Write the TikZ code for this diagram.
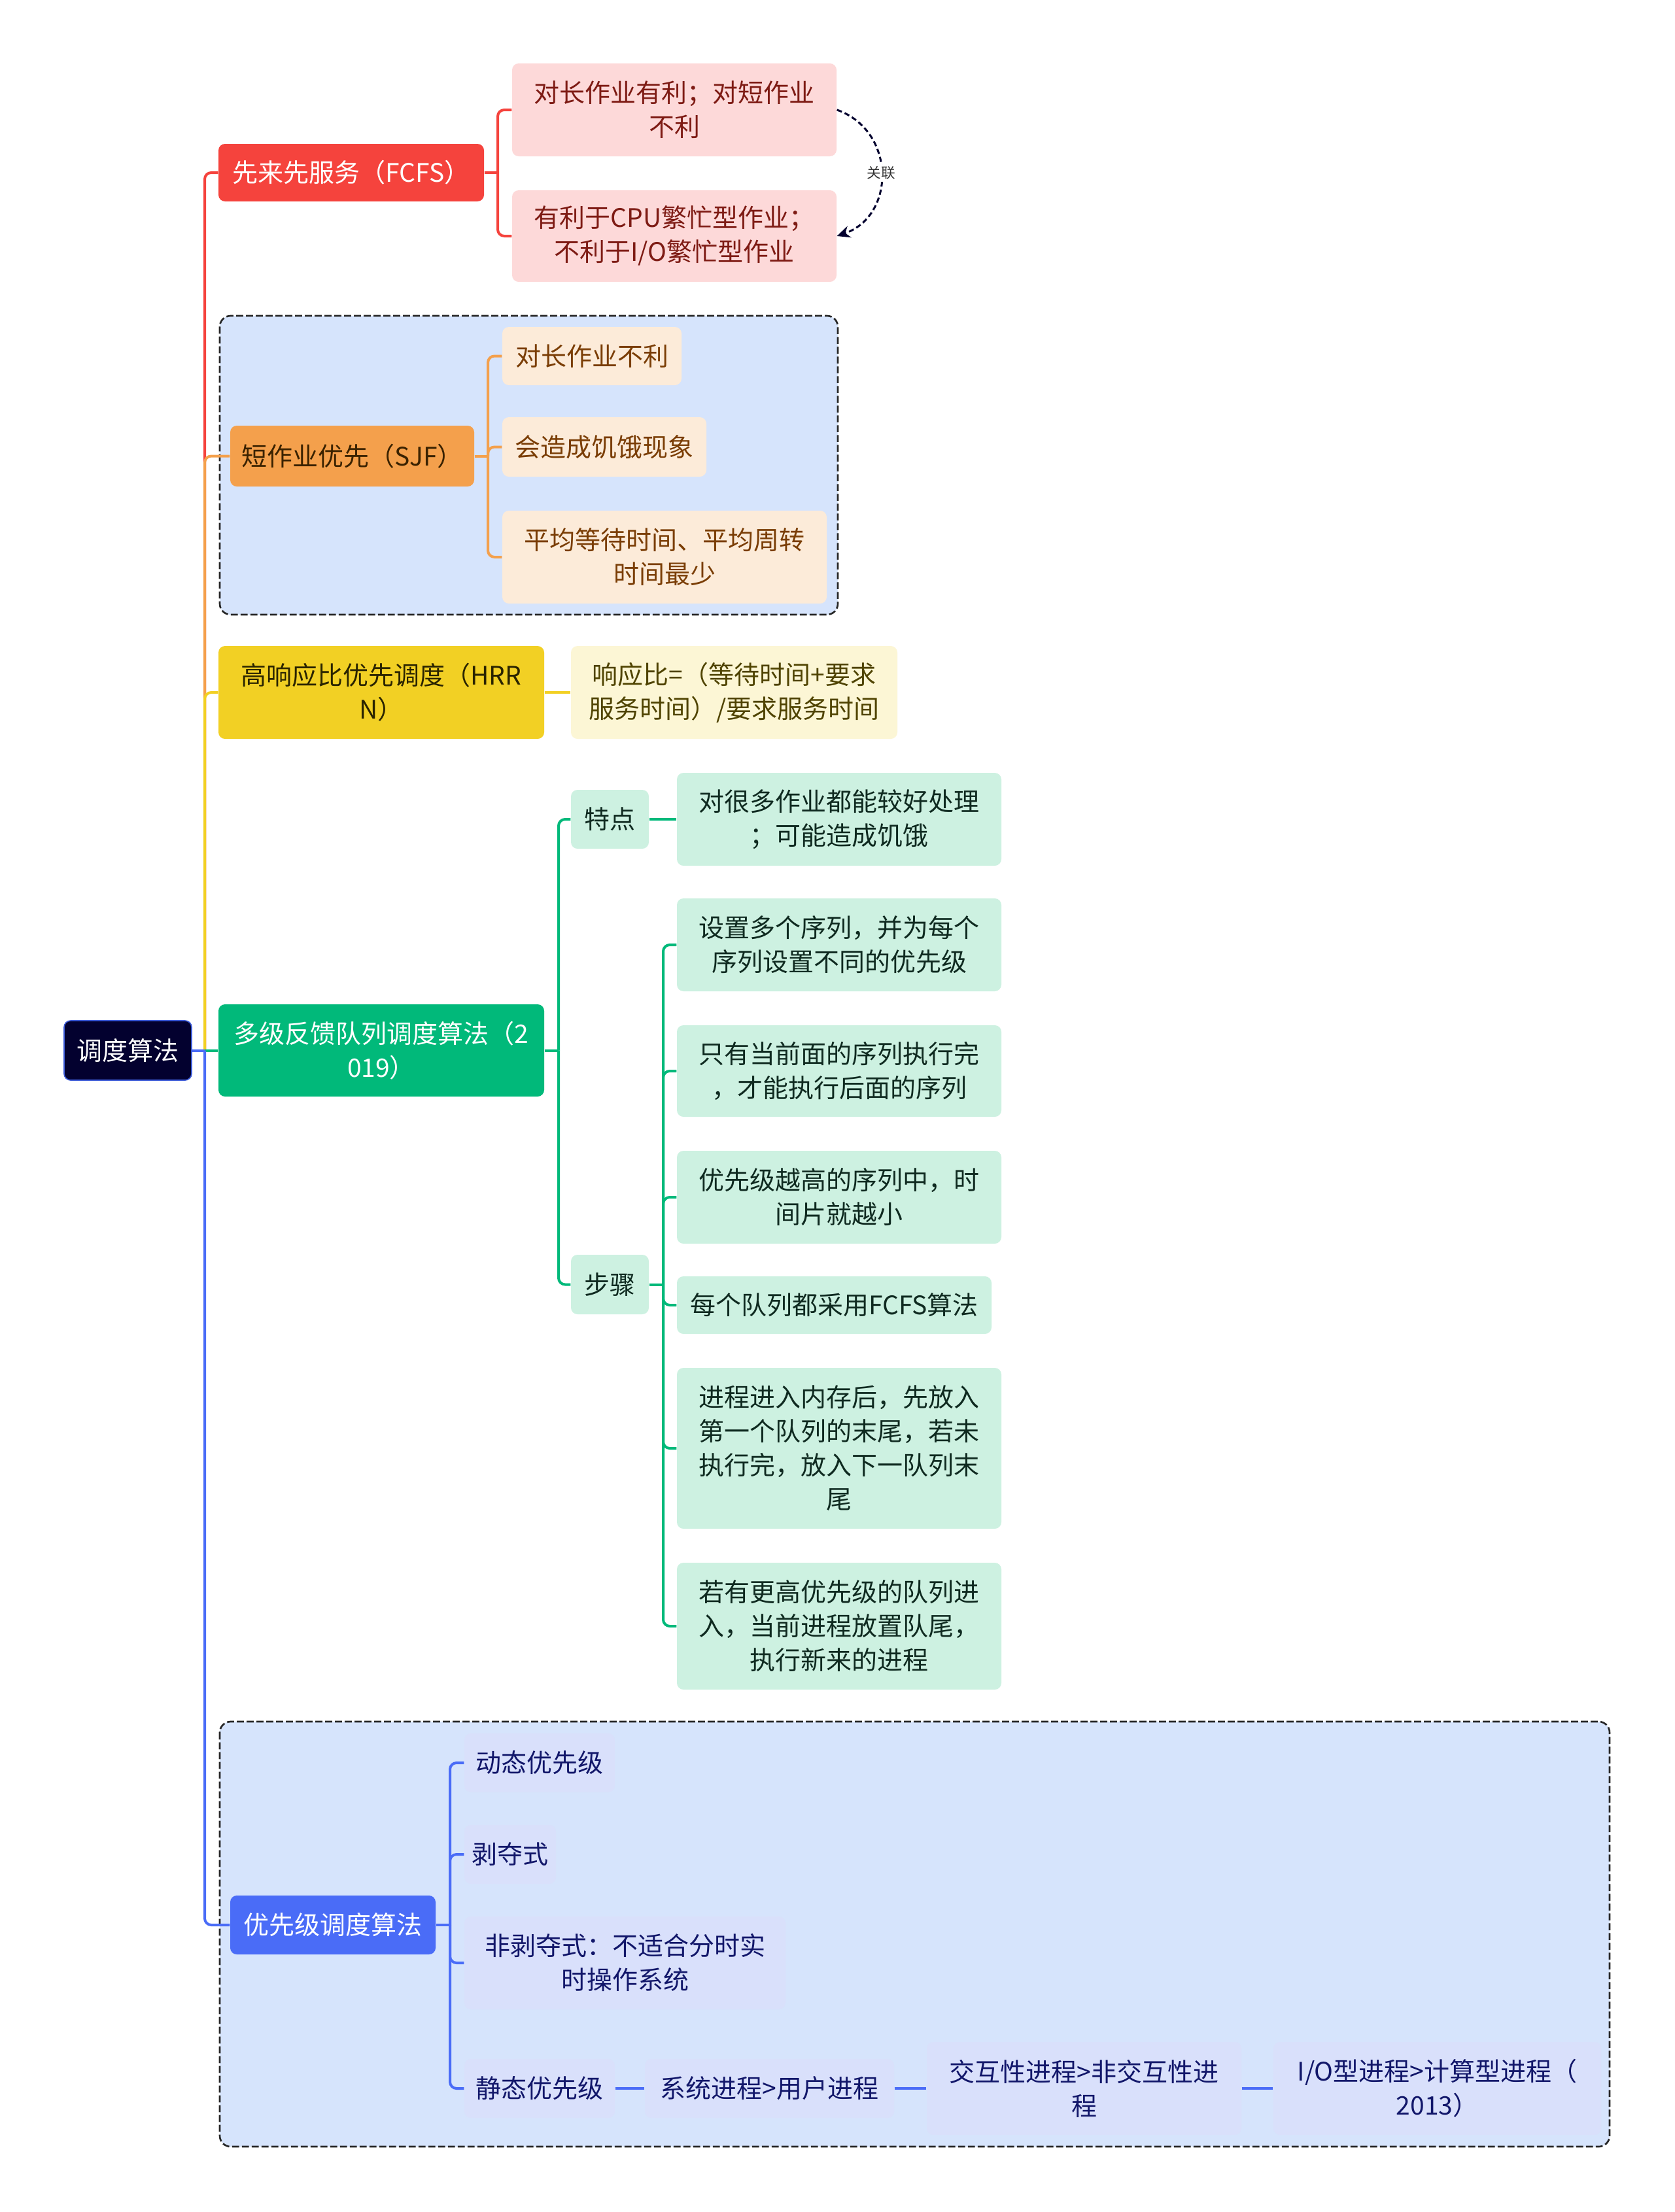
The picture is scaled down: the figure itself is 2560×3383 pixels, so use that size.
\documentclass[tikz,border=0pt]{standalone}
\usepackage{fontspec}
\setmainfont{Noto Sans CJK SC}
\usetikzlibrary{arrows.meta}
\definecolor{rootc}{HTML}{03012F}
\definecolor{rootb}{HTML}{3D5BD8}
\definecolor{redc}{HTML}{F5433D}
\definecolor{redl}{HTML}{FDD9D9}
\definecolor{redt}{HTML}{7E1B14}
\definecolor{orgc}{HTML}{F4A04C}
\definecolor{orgl}{HTML}{FCEBD9}
\definecolor{orgt}{HTML}{7A3D05}
\definecolor{orgn}{HTML}{3A2200}
\definecolor{yelc}{HTML}{F2D024}
\definecolor{yell}{HTML}{FCF6D5}
\definecolor{yelt}{HTML}{4F4300}
\definecolor{yeln}{HTML}{2A2400}
\definecolor{grnc}{HTML}{01B97A}
\definecolor{grnl}{HTML}{CDF1E1}
\definecolor{grnt}{HTML}{0F2A20}
\definecolor{bluc}{HTML}{4A6CF7}
\definecolor{blul}{HTML}{D9E0FB}
\definecolor{blut}{HTML}{12176A}
\definecolor{grpbg}{HTML}{D6E4FC}
\newcommand\fsz{\fontsize{11.7pt}{15.6pt}\selectfont}
\newcommand\bx[7]{%
  \pgfmathsetmacro\myCx{(#2+#4)/2}%
  \pgfmathsetmacro\myCy{(#3+#5)/2}%
  \pgfmathsetmacro\myW{(#4-#2)*0.3}%
  \pgfmathsetmacro\myH{(#5-#3)*0.3}%
  \node[#6, minimum width=\myW pt, minimum height=\myH pt] (#1) at (\myCx,\myCy) {#7};}
\tikzset{
  base/.style={inner sep=0pt, align=center, rounded corners=3pt, font=\fsz},
  rootbox/.style={base, fill=rootc, draw=rootb, line width=0.5pt, text=white},
  redbox/.style={base, fill=redc, text=white},
  redchild/.style={base, fill=redl, text=redt},
  orgbox/.style={base, fill=orgc, text=orgn},
  orgchild/.style={base, fill=orgl, text=orgt},
  yelbox/.style={base, fill=yelc, text=yeln},
  yelchild/.style={base, fill=yell, text=yelt},
  grnbox/.style={base, fill=grnc, text=white},
  grnchild/.style={base, fill=grnl, text=grnt},
  blubox/.style={base, fill=bluc, text=white},
  bluchild/.style={base, fill=blul, text=blut},
  conn/.style={line width=1.2pt, rounded corners=3pt},
  grp/.style={draw=black!85, fill=grpbg, line width=0.8pt, dash pattern=on 3.2pt off 1.3pt, rounded corners=5pt},
}
\begin{document}
\begin{tikzpicture}[x=0.3pt, y=-0.3pt]
\useasboundingbox[fill=white] (0,0) rectangle (2560,3383);
% groups
\draw[grp] (336,483) rectangle (1281,940);
\draw[grp] (336,2633) rectangle (2461,3283);
% root
\bx{root}{98}{1561}{293}{1652}{rootbox}{调度算法}
\coordinate (J) at (313,1606.5);
% FCFS
\bx{fcfs}{334}{220}{740}{308}{redbox}{先来先服务（FCFS）}
\bx{f1}{783}{97}{1279}{239}{redchild}{对长作业有利；对短作业\\不利}
\bx{f2}{783}{291}{1279}{431}{redchild}{有利于CPU繁忙型作业；\\不利于I/O繁忙型作业}
% SJF
\bx{sjf}{352}{651}{725}{744}{orgbox}{短作业优先（SJF）}
\bx{sa}{768}{500}{1042}{589}{orgchild}{对长作业不利}
\bx{sb}{768}{638}{1080}{729}{orgchild}{会造成饥饿现象}
\bx{sc}{768}{781}{1264}{923}{orgchild}{平均等待时间、平均周转\\时间最少}
% HRRN
\bx{hrrn}{334}{988}{832}{1130}{yelbox}{高响应比优先调度（HRR\\N）}
\bx{h1}{873}{988}{1372}{1130}{yelchild}{响应比=（等待时间+要求\\服务时间）/要求服务时间}
% MLFQ
\bx{mlfq}{334}{1536}{832}{1677}{grnbox}{多级反馈队列调度算法（2\\019）}
\bx{td}{873}{1208}{992}{1298}{grnchild}{特点}
\bx{t1}{1035}{1182}{1531}{1324}{grnchild}{对很多作业都能较好处理\\；可能造成饥饿}
\bx{bz}{873}{1919}{992}{2010}{grnchild}{步骤}
\bx{b1}{1035}{1374}{1531}{1516}{grnchild}{设置多个序列，并为每个\\序列设置不同的优先级}
\bx{b2}{1035}{1568}{1531}{1708}{grnchild}{只有当前面的序列执行完\\，才能执行后面的序列}
\bx{b3}{1035}{1760}{1531}{1902}{grnchild}{优先级越高的序列中，时\\间片就越小}
\bx{b4}{1035}{1952}{1516}{2040}{grnchild}{每个队列都采用FCFS算法}
\bx{b5}{1035}{2092}{1531}{2338}{grnchild}{进程进入内存后，先放入\\第一个队列的末尾，若未\\执行完，放入下一队列末\\尾}
\bx{b6}{1035}{2390}{1531}{2584}{grnchild}{若有更高优先级的队列进\\入，当前进程放置队尾，\\执行新来的进程}
% Priority
\bx{pr}{352}{2899}{666}{2989}{blubox}{优先级调度算法}
\bx{p1}{710}{2651}{940}{2741}{bluchild}{动态优先级}
\bx{p2}{710}{2791}{850}{2881}{bluchild}{剥夺式}
\bx{p3}{710}{2931}{1201}{3073}{bluchild}{非剥夺式：不适合分时实\\时操作系统}
\bx{p4}{710}{3149}{940}{3239}{bluchild}{静态优先级}
\bx{q1}{986}{3149}{1367}{3239}{bluchild}{系统进程>用户进程}
\bx{q2}{1417}{3123}{1898}{3265}{bluchild}{交互性进程>非交互性进\\程}
\bx{q3}{1947}{3123}{2448}{3265}{bluchild}{I/O型进程>计算型进程（\\2013）}
% trunk connectors
\draw[conn, redc] (J) |- (fcfs.west);
\draw[conn, orgc] (J) |- (sjf.west);
\draw[conn, yelc] (J) |- (hrrn.west);
\draw[conn, grnc] (J) -- (mlfq.west);
\draw[conn, bluc] (J) |- (pr.west);
\draw[conn, bluc] (root.east) -- (J);
% FCFS children
\coordinate (fj) at (761,264);
\draw[conn, redc] (fcfs.east) -- (fj);
\draw[conn, redc] (fj) |- (f1.west);
\draw[conn, redc] (fj) |- (f2.west);
% SJF children
\coordinate (sj) at (746,697.5);
\draw[conn, orgc] (sjf.east) -- (sj);
\draw[conn, orgc] (sj) |- (sa.west);
\draw[conn, orgc] (sj) |- (sb.west);
\draw[conn, orgc] (sj) |- (sc.west);
% HRRN
\draw[conn, yelc] (hrrn.east) -- (h1.west);
% MLFQ
\coordinate (mj) at (854,1606.5);
\draw[conn, grnc] (mlfq.east) -- (mj);
\draw[conn, grnc] (mj) |- (td.west);
\draw[conn, grnc] (mj) |- (bz.west);
\draw[conn, grnc] (td.east) -- (t1.west);
\coordinate (bj) at (1014,1964.5);
\draw[conn, grnc] (bz.east) -- (bj);
\foreach \n in {b1,b2,b3,b4,b5,b6} \draw[conn, grnc] (bj) |- (\n.west);
% Priority
\coordinate (pj) at (688,2944);
\draw[conn, bluc] (pr.east) -- (pj);
\foreach \n in {p1,p2,p3,p4} \draw[conn, bluc] (pj) |- (\n.west);
\draw[conn, bluc] (p4.east) -- (q1.west);
\draw[conn, bluc] (q1.east) -- (q2.west);
\draw[conn, bluc] (q2.east) -- (q3.west);
% relation
\draw[line width=0.9pt, dash pattern=on 2.4pt off 1.4pt, rootc, -{Stealth[length=6pt,width=5.5pt]}]
  (f1.east) .. controls (1370,200) and (1370,330) .. (f2.east)
  node[pos=0.5, fill=white, inner sep=1pt, font=\fontsize{6.5pt}{7pt}\selectfont, text=black!80] (rel) {关联};
\end{tikzpicture}
\end{document}
